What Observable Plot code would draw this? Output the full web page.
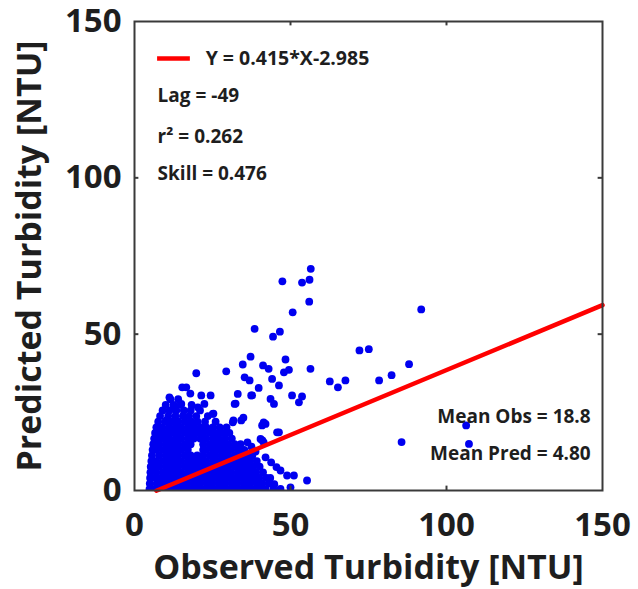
<!DOCTYPE html>
<html><head><meta charset="utf-8">
<script src="https://cdn.jsdelivr.net/npm/d3@7"></script>
<script src="https://cdn.jsdelivr.net/npm/@observablehq/plot@0.6"></script>
<style>html,body{margin:0;padding:0;background:#fff}</style>
</head><body><div id="chart"></div>
<script>
// ---- data ----
const xTicks = [0, 50, 100, 150];
const yTicks = [0, 50, 100, 150];
const xLabel = "Observed Turbidity [NTU]";
const yLabel = "Predicted Turbidity [NTU]";
const fitSlope = 0.415;
const fitIntercept = -2.985;
const fitObsRange = [7, 150];
const fitLabel = "Y = 0.415*X-2.985";
const statsLeft = ["Lag = -49", "r\u00B2 = 0.262", "Skill = 0.476"];
const statsRight = ["Mean Obs = 18.8", "Mean Pred = 4.80"];

// dense cluster: one predicted level per row, observed values per row
const clusterPred = [0.4, 2.2, 4.0, 5.8, 7.6, 9.4, 11.2, 13.0, 14.8, 16.6, 18.4, 20.2, 22.0, 23.8, 25.6, 27.4, 29.2];
const clusterObs = [
  [4.8, 6.0, 8.0, 10.0, 12.0, 14.0, 16.0, 18.0, 20.0, 22.0, 24.0, 26.0, 28.0, 30.0, 32.0, 34.0, 36.0, 38.0, 40.0, 42.0, 44.5],
  [4.9, 7.1, 9.0, 11.1, 13.0, 15.1, 17.0, 19.1, 21.0, 23.1, 25.0, 27.1, 29.0, 31.1, 33.0, 35.1, 37.0, 39.1, 41.0, 43.2],
  [5.0, 6.8, 7.8, 9.9, 12.0, 14.1, 16.0, 18.1, 20.0, 22.1, 24.0, 26.1, 28.0, 30.1, 32.0, 34.1, 36.0, 38.1, 40.0, 42.3],
  [5.1, 7.0, 9.1, 11.0, 13.1, 15.0, 17.1, 19.0, 21.1, 23.0, 25.1, 27.0, 29.1, 31.0, 33.1, 35.0, 37.1, 39.0, 41.2],
  [5.2, 6.6, 7.9, 10.0, 12.1, 14.0, 16.1, 18.0, 20.1, 22.0, 24.1, 26.0, 28.1, 30.0, 32.1, 34.0, 36.1, 38.0, 40.1],
  [5.4, 7.0, 9.1, 11.0, 13.1, 15.0, 17.1, 19.0, 21.1, 23.0, 25.1, 27.0, 29.1, 31.0, 33.1, 35.0, 37.1, 39.2],
  [5.6, 7.9, 10.0, 12.1, 14.0, 16.1, 18.0, 20.1, 22.0, 24.1, 26.0, 28.1, 30.0, 32.1, 34.0, 36.0, 37.8],
  [5.8, 7.0, 9.1, 11.0, 13.1, 15.0, 17.1, 22.0, 23.0, 25.1, 27.0, 29.1, 31.0, 33.1, 35.2],
  [6.0, 7.9, 10.0, 12.1, 14.0, 16.1, 18.0, 22.0, 24.1, 26.0, 28.1, 30.0, 32.1, 34.0],
  [6.3, 7.6, 9.1, 11.0, 13.1, 15.0, 17.1, 19.0, 21.1, 23.0, 25.1, 27.0, 29.1, 31.2],
  [6.6, 8.0, 10.0, 12.1, 14.0, 16.1, 18.0, 20.1, 22.0, 24.1, 26.0, 28.2, 30.4],
  [7.0, 8.9, 11.0, 13.1, 15.0, 17.1, 19.0, 21.1, 23.0, 25.1, 27.3, 29.5],
  [7.6, 9.9, 12.1, 14.0, 16.1, 18.2, 20.2, 22.6, 26.0],
  [8.2, 10.8, 13.1, 15.5, 17.5, 19.8, 23.5],
  [9.0, 11.2, 13.4, 15.8, 18.0, 21.0],
  [10.0, 12.5, 14.8, 18.3],
  [11.5, 14.0]
];
// scattered points [observed, predicted]
const scatterPoints = [
  [56.5,70.9],[47.4,66.9],[53.7,66.5],[56.1,67.4],[56.0,60.4],[50.7,57.0],[38.5,51.7],[44.4,49.2],
  [46.6,50.8],[37.2,42.8],[48.4,41.9],[41.2,40.0],[43.0,38.9],[47.9,37.8],[49.5,38.6],[56.4,38.9],
  [44.1,35.7],[46.3,33.6],[39.8,32.8],[72.1,44.8],[75.1,45.2],[62.6,34.9],[65.2,33.0],[67.6,35.2],
  [78.4,35.2],[91.9,57.9],[88.0,40.4],[82.4,36.9],[85.6,15.5],[106.3,20.8],[107.2,14.9],[50.5,30.4],
  [53.7,30.1],[52.7,28.2],[43.6,29.3],[44.7,27.7],[37.7,30.4],[41.4,21.8],[40.9,20.8],[46.3,18.6],
  [40.4,16.5],[41.4,15.4],[46.8,6.4],[48.9,4.8],[51.1,4.8],[55.3,3.2],[46.8,0.5],[50.0,1.0],
  [11.2,29.8],[16.6,33.0],[12.8,26.6],[15.0,27.7],[20.3,26.6],[22.4,27.7],[21.4,30.4],[24.4,30.4],
  [25.1,24.5],[10.2,22.4],[19.8,37.5],[29.4,38.1],[34.7,40.3],[35.3,36.2],[36.9,35.2],[33.1,30.9],
  [32.1,27.7],[37.4,30.4],[34.2,22.4],[31.5,21.8],[32.4,27.8],[25.3,24.6],[31.7,22.4],[34.9,23.3],
  [41.0,16.0],[36.2,15.4],[42.0,10.6],[15.3,33.0],[17.9,31.0],[42.0,21.3],[45.7,18.6],[43.5,4.0],
  [44.8,2.0],[45.5,7.5],[43.8,9.0],[38.8,12.5],[37.5,14.0]
];

// ---- build tables ----
const points = [];
clusterObs.forEach((row, i) => row.forEach(o => points.push({obs: o, pred: clusterPred[i]})));
scatterPoints.forEach(([o, p]) => points.push({obs: o, pred: p}));
const fitLine = fitObsRange.map(o => ({obs: o, pred: fitSlope * o + fitIntercept}));

const FONT = "'Open Sans', 'DejaVu Sans', sans-serif";
const TXT = "#1e1e1e";

const chart = Plot.plot({
  width: 638,
  height: 589,
  marginLeft: 134,
  marginRight: 36,
  marginTop: 21,
  marginBottom: 99,
  x: {domain: [0, 150]},
  y: {domain: [0, 150]},
  style: {fontFamily: FONT, fontWeight: "bold", background: "#fff", color: TXT},
  marks: [
    Plot.dot(points, {x: "obs", y: "pred", r: 3.9, fill: "#0000f0", stroke: "none", clip: true}),
    Plot.line(fitLine, {x: "obs", y: "pred", stroke: "#ff0000", strokeWidth: 4.5}),
    // legend sample
    Plot.ruleY([138.2], {x1: 7.4, x2: 17.9, stroke: "#ff0000", strokeWidth: 4.5}),
    Plot.text([fitLabel], {x: 22.8, y: 138.2, textAnchor: "start", fontSize: 19.5, fill: TXT}),
    Plot.text(statsLeft, {x: 7.4, y: [126.3, 113.0, 101.3], textAnchor: "start", fontSize: 19, fill: TXT}),
    Plot.text(statsRight, {x: 146.2, y: [23.4, 11.7], textAnchor: "end", fontSize: 19, fill: TXT}),
    Plot.frame({stroke: "#3a3a3a", strokeWidth: 2}),
    // inward ticks (MATLAB style) on all four sides
    Plot.ruleX(xTicks.slice(1, -1), {y1: 0, y2: 1.4, stroke: "#3a3a3a", strokeWidth: 2}),
    Plot.ruleX(xTicks.slice(1, -1), {y1: 148.6, y2: 150, stroke: "#3a3a3a", strokeWidth: 2}),
    Plot.ruleY(yTicks.slice(1, -1), {x1: 0, x2: 1.4, stroke: "#3a3a3a", strokeWidth: 2}),
    Plot.ruleY(yTicks.slice(1, -1), {x1: 148.6, x2: 150, stroke: "#3a3a3a", strokeWidth: 2}),
    Plot.axisX(xTicks, {tickSize: 0, tickPadding: 22, fontSize: 33, label: null, fill: TXT}),
    Plot.axisY(yTicks, {tickSize: 0, tickPadding: 13, fontSize: 33, label: null, fill: TXT}),
    Plot.text([xLabel], {frameAnchor: "bottom", dy: 78, lineAnchor: "middle", fontSize: 34, fill: TXT}),
    Plot.text([yLabel], {frameAnchor: "left", dx: -104, rotate: -90, textAnchor: "middle", lineAnchor: "middle", fontSize: 34, fill: TXT})
  ]
});
document.getElementById("chart").appendChild(chart);
</script>
</body></html>
